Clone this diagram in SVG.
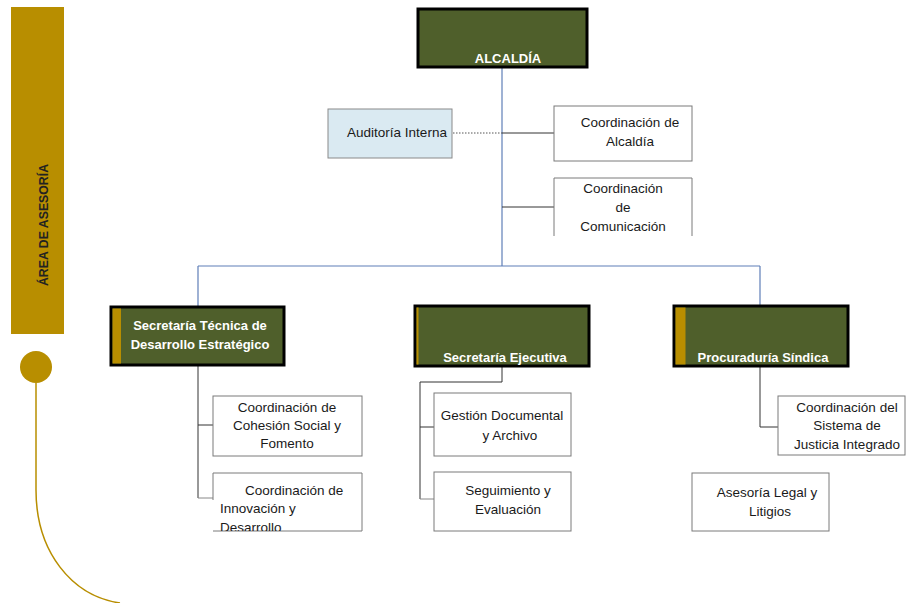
<svg xmlns="http://www.w3.org/2000/svg" width="906" height="603" viewBox="0 0 906 603">
<defs>
<style>
.dark{fill:#4F5F2B;stroke:#000;stroke-width:3}
.gold{fill:#B88E00}
.wbox{fill:#fff;stroke:#7a7a7a;stroke-width:1}
.t{font-family:"Liberation Sans",Arial,sans-serif;font-size:13.5px;fill:#1a1a1a;text-anchor:middle}
.tl{font-family:"Liberation Sans",Arial,sans-serif;font-size:13.5px;fill:#1a1a1a}
.tw{font-family:"Liberation Sans",Arial,sans-serif;font-size:13px;font-weight:bold;fill:#fff;text-anchor:middle}
.c{fill:none;stroke:#333;stroke-width:1}
.cg{fill:none;stroke:#888;stroke-width:1}
.cb{fill:none;stroke:#5F7FB8;stroke-width:1.2}
</style>
<clipPath id="clipInn"><rect x="213" y="473" width="150" height="58"/></clipPath>
</defs>
<rect width="906" height="603" fill="#fff"/>
<g id="area-asesoria">
<rect x="11" y="7" width="53" height="327" class="gold"/>
<text transform="translate(48,225) rotate(-90)" font-family="'Liberation Sans',Arial,sans-serif" font-size="12.3px" font-weight="bold" fill="#222" text-anchor="middle">ÁREA DE ASESORÍA</text>
<circle cx="36" cy="367" r="16" class="gold"/>
<path d="M36,383 V490 C36,552 72,596 120,603" fill="none" stroke="#B88E00" stroke-width="1.5"/>
</g>
<g id="connectors">
<path d="M502,68 V266" class="cb"/>
<path d="M198,266 H760 M198,266 V307 M760,266 V306" class="cb" stroke="#8DAEDC"/>
<path d="M453,133 H502" fill="none" stroke="#555" stroke-width="1" stroke-dasharray="1.5,1.5"/>
<path d="M502,133 H554 M502,207 H554" class="c"/>
<path d="M198,366 V498 M198,425 H213" class="c"/>
<path d="M198,498 H213" class="cg"/>
<path d="M502,367 V382 H420 V499 M420,427 H434" class="c"/>
<path d="M420,499 H434" class="cg"/>
<path d="M760,367 V427 H778" class="c"/>
</g>
<g id="alcaldia">
<rect x="418" y="9" width="169" height="58" class="dark"/>
<text x="508" y="63" class="tw" font-size="12px">ALCALDÍA</text>
</g>
<g id="auditoria">
<rect x="328" y="109" width="124" height="49" fill="#DAEAF2" stroke="#8a8a8a"/>
<text x="397" y="137" class="t">Auditoría Interna</text>
</g>
<g id="coord-alcaldia">
<rect x="554" y="106" width="138" height="55" class="wbox"/>
<text x="630" y="127" class="t">Coordinación de</text>
<text x="630" y="146" class="t">Alcaldía</text>
</g>
<g id="coord-comunicacion">
<path d="M554,236 V178 H692 V236" class="wbox"/>
<text x="623" y="193" class="t">Coordinación</text>
<text x="623" y="212" class="t">de</text>
<text x="623" y="231" class="t">Comunicación</text>
</g>
<g id="sec-tecnica">
<rect x="111" y="307" width="173" height="58" class="dark"/>
<rect x="112.5" y="308.5" width="8.5" height="55" class="gold"/>
<text x="200" y="330" class="tw">Secretaría Técnica de</text>
<text x="200" y="349" class="tw">Desarrollo Estratégico</text>
</g>
<g id="sec-ejecutiva">
<rect x="415" y="306" width="174" height="60" class="dark"/>
<rect x="416.5" y="307.5" width="2" height="57" class="gold"/>
<text x="505" y="362" class="tw">Secretaría Ejecutiva</text>
</g>
<g id="procuraduria">
<rect x="674" y="306" width="174" height="60" class="dark"/>
<rect x="675.5" y="307.5" width="10" height="57" class="gold"/>
<text x="763" y="362" class="tw">Procuraduría Síndica</text>
</g>
<g id="coord-cohesion">
<rect x="213" y="396" width="149" height="60" class="wbox"/>
<text x="287" y="412" class="t">Coordinación de</text>
<text x="287" y="430" class="t">Cohesión Social y</text>
<text x="287" y="448" class="t">Fomento</text>
</g>
<g id="coord-innovacion">
<path d="M213,500 V473 H362 V531 H213" class="wbox"/>
<g clip-path="url(#clipInn)">
<text x="245" y="495" class="tl">Coordinación de</text>
<text x="220" y="513" class="tl">Innovación y</text>
<text x="220" y="532" class="tl">Desarrollo</text>
</g>
</g>
<g id="gestion-documental">
<rect x="434" y="393" width="137" height="63" class="wbox"/>
<text x="502" y="420" class="t">Gestión Documental</text>
<text x="510" y="440" class="t">y Archivo</text>
</g>
<g id="seguimiento">
<rect x="434" y="472" width="137" height="59" class="wbox"/>
<text x="508" y="495" class="t">Seguimiento y</text>
<text x="508" y="514" class="t">Evaluación</text>
</g>
<g id="coord-justicia">
<rect x="778" y="396" width="127" height="59" class="wbox"/>
<text x="847" y="412" class="t">Coordinación del</text>
<text x="847" y="430" class="t">Sistema de</text>
<text x="847" y="449" class="t">Justicia Integrado</text>
</g>
<g id="asesoria-legal">
<rect x="692" y="473" width="137" height="58" class="wbox"/>
<text x="767" y="497" class="t">Asesoría Legal y</text>
<text x="770" y="516" class="t">Litigios</text>
</g>
</svg>
